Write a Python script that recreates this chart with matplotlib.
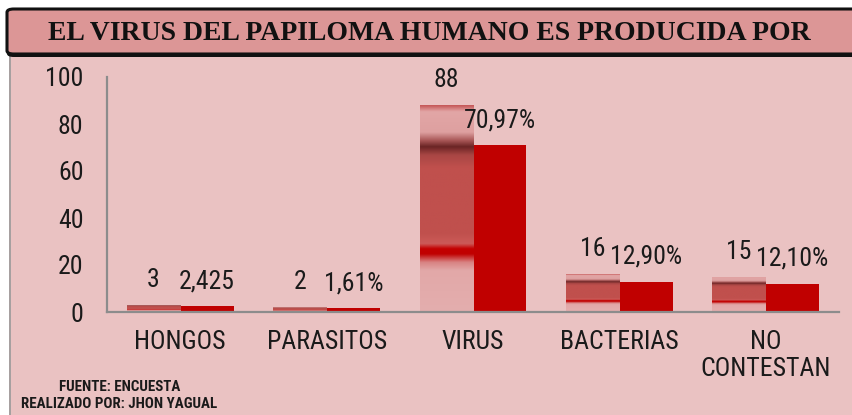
import numpy as np
import matplotlib
matplotlib.use("Agg")
import matplotlib.pyplot as plt
from matplotlib import font_manager as fm
from matplotlib.patches import FancyBboxPatch, Rectangle
from matplotlib.colors import LinearSegmentedColormap

# ---------------- data ----------------
categories = ["HONGOS", "PARASITOS", "VIRUS", "BACTERIAS", "NO\nCONTESTAN"]
counts = [3, 2, 88, 16, 15]
percents = [2.425, 1.61, 70.97, 12.90, 12.10]
count_labels = ["3", "2", "88", "16", "15"]
pct_labels = ["2,425", "1,61%", "70,97%", "12,90%", "12,10%"]
yticks = [0, 20, 40, 60, 80, 100]
title = "EL VIRUS DEL PAPILOMA HUMANO ES PRODUCIDA POR"
footer = ["FUENTE: ENCUESTA", "REALIZADO POR: JHON YAGUAL"]

# ---------------- fonts ----------------
names = {f.name for f in fm.fontManager.ttflist}
def pick(*cands):
    for c in cands:
        if c in names:
            return c
    return "DejaVu Sans"
SANS = pick("Liberation Sans Narrow", "Roboto Condensed", "Liberation Sans")
SERIF = pick("Liberation Serif", "DejaVu Serif")

W, H = 852, 415
fig = plt.figure(figsize=(W / 100, H / 100), dpi=100, facecolor="white")

def fx(px):
    return px / W
def fy(py):
    return 1 - py / H

BG = "#eac2c2"
# pink background area
fig.patches.append(Rectangle((fx(9), 0), 1 - fx(9), fy(50), transform=fig.transFigure,
                             facecolor=BG, edgecolor="none", zorder=0))
fig.add_artist(plt.Line2D([fx(9.5), fx(9.5)], [0, fy(50)], transform=fig.transFigure,
                          color="#9a9a9a", lw=1.2, zorder=1))

# title box with shadow
shadow = FancyBboxPatch((fx(7), fy(57)), 1.2, fy(10) - fy(57),
                        boxstyle="round,pad=0,rounding_size=0.008",
                        transform=fig.transFigure, facecolor="#111111",
                        edgecolor="none", zorder=2)
fig.patches.append(shadow)
tbox = FancyBboxPatch((fx(7), fy(54)), 1.2, fy(9) - fy(54),
                      boxstyle="round,pad=0,rounding_size=0.008",
                      transform=fig.transFigure, facecolor="#dc9696",
                      edgecolor="#111111", linewidth=2.2, zorder=3)
fig.patches.append(tbox)
fig.text(fx(429), fy(34), title, ha="center", va="center", family=SERIF,
         fontweight="bold", fontsize=20, color="#111111", zorder=4)

# ---------------- axes ----------------
ax = fig.add_axes([fx(107), fy(312), fx(839) - fx(107), fy(77) - fy(312)], zorder=5)
ax.set_facecolor("none")
x = np.arange(len(categories))
bw = 0.365

stops = [(0.00, "#c65858"), (0.03, "#e2a6a6"), (0.13, "#dea0a0"),
         (0.17, "#a85656"), (0.20, "#6a2424"), (0.24, "#a84644"),
         (0.30, "#c0504d"), (0.62, "#c0504d"), (0.67, "#cc5a58"),
         (0.695, "#c40000"), (0.72, "#c00000"), (0.76, "#d88282"),
         (0.80, "#e2a8a8"), (1.00, "#e4aeae")]
cmap = LinearSegmentedColormap.from_list("grad", stops)
grad = np.linspace(0, 1, 512).reshape(-1, 1)

cbars = ax.bar(x - bw / 2, counts, bw, color="#c0504d", zorder=2)
pbars = ax.bar(x + bw / 2, percents, bw, color="#c00000", zorder=2)

for b in cbars:
    x0, w, h = b.get_x(), b.get_width(), b.get_height()
    im = ax.imshow(grad, cmap=cmap, extent=[x0, x0 + w, 0, h], aspect="auto",
                   origin="upper", interpolation="bilinear", zorder=2.1)
    im.set_clip_path(b)

for b, lab in zip(cbars, count_labels):
    ax.annotate(lab, (b.get_x() + b.get_width() / 2, b.get_height()),
                xytext=(0, 18), textcoords="offset points", ha="center",
                va="center", family=SANS, fontsize=18.5, color="#1a1a1a")
for b, lab in zip(pbars, pct_labels):
    ax.annotate(lab, (b.get_x() + b.get_width() / 2, b.get_height()),
                xytext=(0, 18), textcoords="offset points", ha="center",
                va="center", family=SANS, fontsize=18.5, color="#1a1a1a")

ax.set_xlim(-0.5, len(categories) - 0.5)
ax.set_ylim(0, 100)
ax.set_yticks(yticks)
ax.set_yticklabels([str(t) for t in yticks], family=SANS, fontsize=18.5, color="#1a1a1a")
ax.set_xticks(x)
ax.set_xticklabels(categories, family=SANS, fontsize=18.5, color="#1a1a1a",
                   linespacing=1.15)
ax.tick_params(axis="both", length=0)
ax.tick_params(axis="y", pad=17)
ax.tick_params(axis="x", pad=13)
for s in ["top", "right"]:
    ax.spines[s].set_visible(False)
for s in ["left", "bottom"]:
    ax.spines[s].set_color("#8c8c8c")
    ax.spines[s].set_linewidth(1.6)
ax.spines["left"].set_zorder(3)
ax.spines["bottom"].set_zorder(3)

# footer
fig.text(fx(120), fy(387), footer[0], ha="center", va="center", family=SANS,
         fontweight="bold", fontsize=10.8, color="#1a1a1a")
fig.text(fx(119), fy(404), footer[1], ha="center", va="center", family=SANS,
         fontweight="bold", fontsize=10.8, color="#1a1a1a")

fig.savefig("out.png", dpi=100, facecolor=fig.get_facecolor())
